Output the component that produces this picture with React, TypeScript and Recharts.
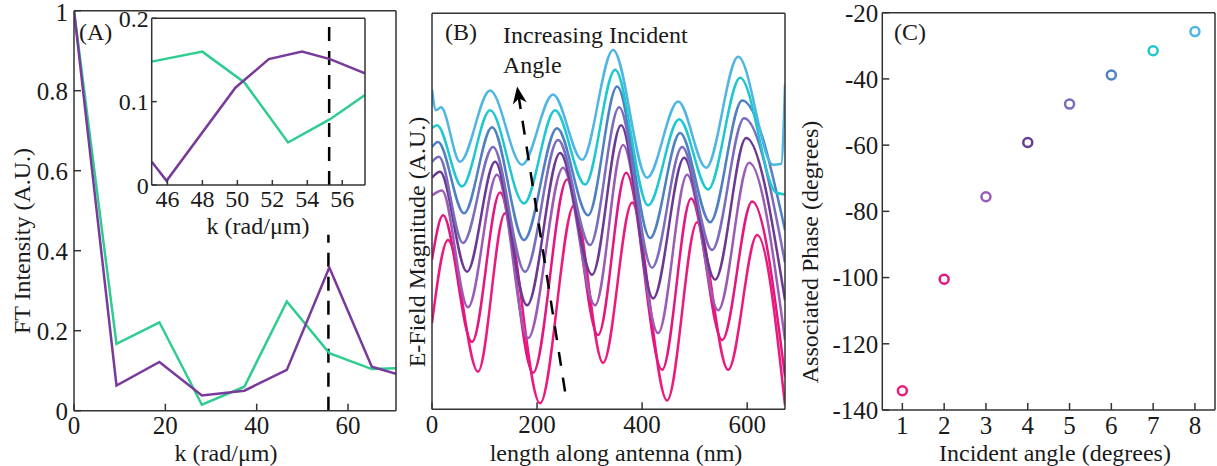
import React from 'react';
import {
  LineChart,
  Line,
  XAxis,
  YAxis,
  ReferenceLine,
  ReferenceDot,
  ComposedChart,
  ScatterChart,
  Scatter,
  Cell,
} from 'recharts';

const SERIF = '"Liberation Serif", "Times New Roman", serif';
const AXIS = '#333333';
const INK = '#1a1a1a';

// ---- panel A: FT intensity vs k ----
const kValues = [0, 9.3, 18.7, 28.0, 37.3, 46.6, 55.9, 65.2, 70.5];
const ftGreen = [1, 0.167, 0.221, 0.015, 0.06, 0.273, 0.144, 0.104, 0.106];
const ftPurple = [1, 0.063, 0.122, 0.038, 0.05, 0.102, 0.358, 0.11, 0.092];
const kTicks = [0, 20, 40, 60];
const ftTicks = [0, 0.2, 0.4, 0.6, 0.8, 1];
const kMarker = 55.7;

// inset (zoom around the marker)
const insetGreenK = [45.1, 48.0, 50.4, 52.9, 55.3, 57.3];
const insetGreenFt = [0.148, 0.16, 0.123, 0.051, 0.079, 0.108];
const insetPurpleK = [45.1, 45.95, 49.9, 51.8, 53.7, 55.3, 57.3];
const insetPurpleFt = [0.028, 0.005, 0.117, 0.151, 0.16, 0.151, 0.134];
const insetKTicks = [46, 48, 50, 52, 54, 56];
const insetFtTicks = [0, 0.1, 0.2];
const insetFtMinor = [0, 0.04, 0.08, 0.12, 0.16, 0.2];
const insetMarker = 55.25;

// ---- panel B: field along antenna, one trace per incident angle (1 -> 8) ----
const field1: [number, number][] = [[0, 0.87], [30.5, 1.71], [87.6, 0.38], [139, 1.98], [205.7, 0.06], [270.5, 2.06], [325.7, 0.47], [381, 2.09], [447.6, 0.09], [504.8, 1.89], [563.8, 0.4], [619, 1.76], [672, 0.04]];
const field2: [number, number][] = [[0, 1.51], [21, 1.96], [76.2, 0.68], [129.5, 2.19], [192.4, 0.37], [257.1, 2.32], [316.2, 0.75], [369.5, 2.39], [438.1, 0.4], [493.3, 2.13], [552.4, 0.7], [609.5, 2.1], [672, 0.33]];
const field3: [number, number][] = [[0, 2.16], [19, 2.21], [68.6, 1.03], [123.8, 2.37], [182.9, 0.72], [249.5, 2.44], [310.5, 1.05], [363.8, 2.67], [430.5, 0.77], [485.7, 2.37], [544.8, 1.0], [603.8, 2.49], [672, 0.7]];
const field4: [number, number][] = [[0, 2.34], [15.2, 2.4], [66.7, 1.39], [120, 2.5], [181, 1.05], [243.8, 2.59], [304.8, 1.36], [360, 2.87], [421, 1.12], [480, 2.54], [539, 1.31], [598.1, 2.74], [672, 1.1]];
const field5: [number, number][] = [[0, 2.5], [13.3, 2.55], [59, 1.68], [116.2, 2.65], [177.1, 1.39], [240, 2.72], [301, 1.66], [356.2, 3.05], [419, 1.43], [476.2, 2.65], [533.3, 1.61], [594.3, 2.94], [672, 1.48]];
const field6: [number, number][] = [[0, 2.65], [11.4, 2.7], [61, 1.98], [114.3, 2.85], [175.2, 1.71], [238.1, 2.84], [297.1, 1.96], [352.4, 3.26], [415.2, 1.73], [472.4, 2.79], [529.5, 1.89], [590.5, 3.12], [672, 1.81]];
const field7: [number, number][] = [[0, 2.84], [9.5, 2.87], [57.1, 2.25], [110.5, 3.02], [175.2, 2.08], [234.3, 3.02], [291.4, 2.27], [348.6, 3.43], [411.4, 2.06], [470.5, 2.93], [525.7, 2.22], [586.7, 3.35], [655.2, 2.19], [672, 2.17]];
const field8: [number, number][] = [[0, 3.23], [7.6, 3.02], [17.1, 3.05], [53.3, 2.5], [110.5, 3.22], [171.4, 2.47], [230.5, 3.18], [285.7, 2.52], [344.8, 3.63], [409.5, 2.34], [468.6, 3.11], [521.9, 2.44], [582.9, 3.56], [649.5, 2.47], [664.8, 2.48], [672, 3.28]];
const fieldTraces = [field1, field2, field3, field4, field5, field6, field7, field8];
const lengthTicks = [0, 200, 400, 600];
const fieldTicks = [1, 2, 3];
const arrowTail = { x: 253.3, y: 0.18 };
const arrowNeck = { x: 165, y: 3.16 };
const arrowTip = { x: 162, y: 3.26 };

// ---- panel C: phase vs incident angle ----
const angles = [1, 2, 3, 4, 5, 6, 7, 8];
const phases = [-134.2, -100.5, -75.6, -59.2, -47.6, -38.8, -31.5, -25.7];
const phaseTicks = [-140, -120, -100, -80, -60, -40, -20];

const angleColors = ['#ec1a7d', '#e3177f', '#9a5cb5', '#6b3a94', '#7b6cbd', '#4e80c2', '#1fc7cf', '#4fb5e5'];

const ftRows = kValues.map((k, i) => ({ k, green: ftGreen[i], purple: ftPurple[i] }));
const insetGreen = insetGreenK.map((k, i) => ({ k, v: insetGreenFt[i] }));
const insetPurple = insetPurpleK.map((k, i) => ({ k, v: insetPurpleFt[i] }));
const phaseRows = angles.map((a, i) => ({ a, p: phases[i] }));

const tickStyle = { fontSize: 25, fill: INK, fontFamily: SERIF };
const insetTickStyle = { fontSize: 24, fill: INK, fontFamily: SERIF };
// axes are 1px thick so recharts still draws them; margins below account for that
const axisLook = { stroke: AXIS, strokeWidth: 1.5, interval: 0 as const };

// y tick for panel A: keep the top "1" from running off the page
const FtTick = (props: any) => {
  const { x, y, payload } = props;
  return (
    <text x={x} y={Math.max(y, 12)} dy="0.355em" textAnchor="end" fontSize={25} fill={INK} fontFamily={SERIF}>
      {payload.value}
    </text>
  );
};

function Title({ x, y, rotate, left, children }: any) {
  return (
    <div
      style={{
        position: 'absolute',
        left: x,
        top: y,
        transform: `translate(${left ? '0' : '-50%'},-50%)${rotate ? ' rotate(-90deg)' : ''}`,
        fontFamily: SERIF,
        fontSize: 24,
        lineHeight: '22px',
        whiteSpace: 'nowrap',
        color: INK,
      }}
    >
      {children}
    </div>
  );
}

const ArrowHead = (props: any) => {
  const { cx, cy } = props;
  return (
    <polygon
      points="0,0 -7,17 0,12 7,17"
      fill="#000"
      transform={`translate(${cx},${cy}) rotate(-9)`}
    />
  );
};

const Ring = (props: any) => (
  <circle cx={props.cx} cy={props.cy} r={4.5} fill="none" stroke={props.stroke} strokeWidth={2.5} />
);

export default function App() {
  return (
    <div style={{ position: 'absolute', left: 0, top: 0, width: 1217, height: 466, background: '#fff', overflow: 'hidden' }}>
      <style>{'body{margin:0;overflow:hidden;background:#fff}'}</style>

      {/* Panel A */}
      <div style={{ position: 'absolute', left: 0, top: 0 }}>
        <LineChart width={410} height={466} data={ftRows} margin={{ top: 9.7, right: 13, bottom: 54.3, left: 73 }}>
          <XAxis xAxisId="b" dataKey="k" type="number" domain={[0, 70.5]} ticks={kTicks} allowDataOverflow height={1} tickSize={-7} tickMargin={13} tick={tickStyle} {...axisLook} />
          <XAxis xAxisId="t" orientation="top" type="number" domain={[0, 70.5]} ticks={kTicks} height={1} tickSize={-7} tick={false} {...axisLook} />
          <YAxis yAxisId="l" type="number" domain={[0, 1]} ticks={ftTicks} width={1} tickSize={-7} tickMargin={13} tick={<FtTick />} {...axisLook} />
          <YAxis yAxisId="r" orientation="right" type="number" domain={[0, 1]} ticks={ftTicks} width={1} tickSize={-7} tick={false} {...axisLook} />
          <ReferenceLine xAxisId="b" yAxisId="l" segment={[{ x: kMarker, y: 0 }, { x: kMarker, y: 0.44 }]} stroke="#000" strokeWidth={2.5} strokeDasharray="14 10" />
          <Line xAxisId="b" yAxisId="l" dataKey="green" stroke="#2fcc8f" strokeWidth={2.5} dot={false} activeDot={false} isAnimationActive={false} />
          <Line xAxisId="b" yAxisId="l" dataKey="purple" stroke="#7a3a9c" strokeWidth={2.5} dot={false} activeDot={false} isAnimationActive={false} />
        </LineChart>
      </div>

      {/* Inset */}
      <div style={{ position: 'absolute', left: 100, top: 0 }}>
        <LineChart width={280} height={240} margin={{ top: 17.3, right: 14, bottom: 54, left: 50.7 }}>
          <XAxis xAxisId="b" dataKey="k" type="number" domain={[45.1, 57.3]} ticks={insetKTicks} allowDataOverflow height={1} tickSize={-5} tickMargin={10} tick={insetTickStyle} {...axisLook} />
          <XAxis xAxisId="t" orientation="top" type="number" domain={[45.1, 57.3]} ticks={insetKTicks} height={1} tickSize={-5} tick={false} {...axisLook} />
          <YAxis yAxisId="l" type="number" domain={[0, 0.2]} ticks={insetFtTicks} allowDataOverflow width={1} tickSize={-5} tickMargin={8} tick={insetTickStyle} {...axisLook} />
          <YAxis yAxisId="r" orientation="right" type="number" domain={[0, 0.2]} ticks={insetFtMinor} width={1} tickSize={-5} tick={false} {...axisLook} />
          <ReferenceLine xAxisId="b" yAxisId="l" x={insetMarker} stroke="#000" strokeWidth={2.5} strokeDasharray="14 10" />
          <Line xAxisId="b" yAxisId="l" data={insetGreen} dataKey="v" stroke="#2fcc8f" strokeWidth={2.5} dot={false} activeDot={false} isAnimationActive={false} />
          <Line xAxisId="b" yAxisId="l" data={insetPurple} dataKey="v" stroke="#7a3a9c" strokeWidth={2.5} dot={false} activeDot={false} isAnimationActive={false} />
        </LineChart>
      </div>

      {/* Panel B */}
      <div style={{ position: 'absolute', left: 420, top: 0 }}>
        <ComposedChart width={380} height={466} margin={{ top: 12.3, right: 14, bottom: 55.7, left: 11 }}>
          <XAxis xAxisId="b" dataKey="x" type="number" domain={[0, 672]} ticks={lengthTicks} allowDataOverflow height={1} tickSize={-7} tickMargin={13} tick={tickStyle} {...axisLook} />
          <XAxis xAxisId="t" orientation="top" type="number" domain={[0, 672]} ticks={lengthTicks} height={1} tickSize={-7} tick={false} {...axisLook} />
          <YAxis yAxisId="l" type="number" domain={[0, 4]} ticks={fieldTicks} allowDataOverflow width={1} tickSize={-7} tick={false} {...axisLook} />
          <YAxis yAxisId="r" orientation="right" type="number" domain={[0, 4]} ticks={fieldTicks} width={1} tickSize={-7} tick={false} {...axisLook} />
          {fieldTraces.map((trace, i) => (
            <Line
              key={i}
              xAxisId="b"
              yAxisId="l"
              type="monotone"
              data={trace.map(([x, y]) => ({ x, y }))}
              dataKey="y"
              stroke={angleColors[i]}
              strokeWidth={2.5}
              dot={false}
              activeDot={false}
              isAnimationActive={false}
            />
          ))}
          <ReferenceLine xAxisId="b" yAxisId="l" segment={[arrowTail, arrowNeck]} stroke="#000" strokeWidth={2.5} strokeDasharray="14 12" />
          <ReferenceDot xAxisId="b" yAxisId="l" x={arrowTip.x} y={arrowTip.y} r={1} shape={ArrowHead} />
        </ComposedChart>
      </div>

      {/* Panel C */}
      <div style={{ position: 'absolute', left: 800, top: 0 }}>
        <ScatterChart width={417} height={466} margin={{ top: 11.7, right: 1, bottom: 55, left: 81.3 }}>
          <XAxis xAxisId="b" dataKey="a" type="number" domain={[0.52, 8.48]} ticks={angles} height={1} tickSize={-7} tickMargin={13} tick={tickStyle} {...axisLook} />
          <XAxis xAxisId="t" orientation="top" type="number" domain={[0.52, 8.48]} ticks={angles} height={1} tickSize={-7} tick={false} {...axisLook} />
          <YAxis yAxisId="l" dataKey="p" type="number" domain={[-140, -20]} ticks={phaseTicks} width={1} tickSize={-7} tickMargin={11} tick={tickStyle} {...axisLook} />
          <YAxis yAxisId="r" orientation="right" type="number" domain={[-140, -20]} ticks={phaseTicks} width={1} tickSize={-7} tick={false} {...axisLook} />
          <Scatter xAxisId="b" yAxisId="l" data={phaseRows} shape={Ring} isAnimationActive={false}>
            {phaseRows.map((_, i) => (
              <Cell key={i} stroke={angleColors[i]} fill="none" />
            ))}
          </Scatter>
        </ScatterChart>
      </div>

      {/* titles and annotations */}
      <Title x={22} y={241} rotate>FT Intensity (A.U.)</Title>
      <Title x={226} y={453}>k (rad/μm)</Title>
      <Title x={258} y={226}>k (rad/μm)</Title>
      <Title x={79} y={32} left>(A)</Title>

      <Title x={417} y={242} rotate>E-Field Magnitude (A.U.)</Title>
      <Title x={616} y={453}>length along antenna (nm)</Title>
      <Title x={445} y={32} left>(B)</Title>
      <Title x={503} y={35} left>Increasing Incident</Title>
      <Title x={503} y={65} left>Angle</Title>

      <Title x={810} y={252} rotate>Associated Phase (degrees)</Title>
      <Title x={1055} y={453}>Incident angle (degrees)</Title>
      <Title x={894} y={32} left>(C)</Title>
    </div>
  );
}
